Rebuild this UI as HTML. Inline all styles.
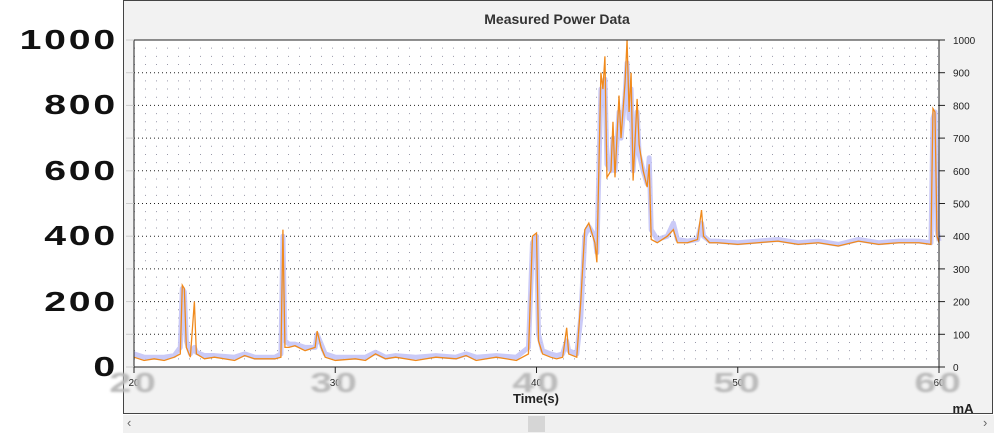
<!DOCTYPE html>
<html><head><meta charset="utf-8"><style>
body{margin:0;width:994px;height:433px;background:#fff;overflow:hidden;font-family:"Liberation Sans",sans-serif;position:relative}
#panel{position:absolute;left:123px;top:0;width:870px;height:414px;background:#f2f2f2;border:1px solid #444;box-sizing:border-box}
#sb{position:absolute;left:123px;top:415px;width:871px;height:18px;background:#f0f0f0}
.big{position:absolute;font-size:28px;color:#111;letter-spacing:2px;transform:scaleX(1.4);transform-origin:right center;text-align:right;width:100px;left:18px;line-height:28px;font-weight:bold}
.bx{position:absolute;font-size:28px;color:#bbb;letter-spacing:2px;filter:blur(1px);transform:translateX(-50%) scaleX(1.4);line-height:28px;font-weight:bold}
</style></head><body>
<div id="panel"></div>
<div id="sb">
 <span style="position:absolute;left:4px;top:0;font-size:13px;color:#666">‹</span>
 <div style="position:absolute;left:405px;top:1px;width:17px;height:16px;background:#d6d6d6"></div>
 <span style="position:absolute;left:860px;top:0;font-size:13px;color:#666">›</span>
</div>
<svg id="chart" width="994" height="433" style="position:absolute;left:0;top:0"></svg>
<div id="bigy"></div><div id="bigx"></div>
<script>
const times=[20,20.5,21,21.5,22,22.3,22.4,22.5,22.6,22.8,23.0,23.1,23.5,24,25,25.5,26,27,27.3,27.4,27.5,27.7,28,28.5,29,29.1,29.3,29.5,30,31,31.5,32,32.5,33,34,35,36,36.5,37,38,39,39.6,39.8,40.0,40.1,40.3,40.7,41,41.3,41.5,41.6,42,42.2,42.4,42.6,42.9,43.0,43.2,43.3,43.4,43.5,43.7,43.8,43.9,44.1,44.2,44.4,44.5,44.6,44.7,44.8,45,45.1,45.3,45.5,45.6,45.7,46,46.5,46.8,47,47.5,48,48.2,48.3,48.6,49,50,51,52,53,54,55,56,57,58,59,59.6,59.7,59.8,59.9,60];
const rawValues=[30,20,25,20,30,40,250,240,60,30,200,40,25,30,20,35,25,25,30,420,60,60,65,50,60,110,60,30,20,25,20,40,25,30,20,30,25,35,20,30,20,40,400,410,80,40,30,25,30,120,40,30,200,420,440,380,320,900,850,950,580,600,750,580,830,700,870,1000,780,900,570,820,680,600,550,620,390,380,400,420,380,380,390,480,400,380,380,375,380,385,375,380,370,385,375,380,380,375,790,780,400,380];
const smoothValues=[40,30,30,30,35,60,240,230,80,40,60,45,35,35,30,40,30,30,40,400,80,70,70,60,60,100,70,40,30,30,30,45,30,35,30,35,30,40,30,35,30,60,380,400,100,50,40,35,40,80,50,40,150,400,430,400,350,850,800,880,620,600,700,600,780,700,830,930,760,850,600,780,650,600,560,640,420,390,400,440,390,385,390,440,400,385,385,380,385,390,380,385,375,390,380,385,385,380,760,780,420,385];
const yTicks=[0,100,200,300,400,500,600,700,800,900,1000];
const bigYLabels=[0,200,400,600,800,1000];
const xTicks=[20,30,40,50,60];
const L=134,R=939,T=40,B=367;
const xs=t=>L+(t-20)/40*(R-L);
const ys=v=>B-v/1000*(B-T);
const svg=document.getElementById('chart');
const NS='http://www.w3.org/2000/svg';
function mk(tag,a){const e=document.createElementNS(NS,tag);for(const k in a)e.setAttribute(k,a[k]);svg.appendChild(e);return e;}
let bg=mk('rect',{x:L,y:T,width:R-L,height:B-T,fill:'#fff'});


// minor grid
for(let v=25;v<1000;v+=25){let g=mk('line',{x1:L,x2:R,y1:ys(v),y2:ys(v),stroke:v%100==0?'#222':'#99a',"stroke-width":1,"stroke-dasharray":v%100==0?'1,3':'1,10'});

}
for(let t=20.25;t<60;t+=0.25){}
let smooth=mk('polyline',{points:times.map((t,i)=>xs(t)+','+ys(smoothValues[i])).join(' '),fill:'none',stroke:'#c4c4f6',"stroke-width":5,"stroke-linejoin":'round',opacity:0.9});


let raw=mk('polyline',{points:times.map((t,i)=>xs(t)+','+ys(rawValues[i])).join(' '),fill:'none',stroke:'#f08a1c',"stroke-width":1.3});


let fr=mk('rect',{x:L,y:T,width:R-L,height:B-T,fill:'none',stroke:'#222'});


yTicks.forEach(v=>{mk('line',{x1:R,x2:R+6,y1:ys(v),y2:ys(v),stroke:'#222'});
 let t=mk('text',{x:R+14,y:ys(v)+4,"font-size":10,fill:'#222'});t.textContent=v;
 
 
 mk('line',{x1:L-8,x2:L,y1:ys(v),y2:ys(v),stroke:'#ccc'});});
xTicks.forEach(v=>{mk('line',{x1:xs(v),x2:xs(v),y1:B,y2:B+6,stroke:'#222'});
 let t=mk('text',{x:xs(v),y:B+19,"font-size":10,fill:'#222',"text-anchor":'middle'});t.textContent=v;
 
 });
let ti=mk('text',{x:557,y:24,"font-size":14,"font-weight":'bold',fill:'#333',"text-anchor":'middle'});ti.textContent='Measured Power Data';


let xt=mk('text',{x:536,y:403,"font-size":13,"font-weight":'bold',fill:'#222',"text-anchor":'middle'});xt.textContent='Time(s)';


let ma=mk('text',{x:963,y:413,"font-size":13,"font-weight":'bold',fill:'#222',"text-anchor":'middle'});ma.textContent='mA';


const by=document.getElementById('bigy');
bigYLabels.forEach(v=>{const d=document.createElement('div');d.className='big';d.style.top=(ys(v)-14)+'px';d.textContent=v;
 
 
 by.appendChild(d);});
const bx=document.getElementById('bigx');
xTicks.forEach(v=>{const d=document.createElement('div');d.className='bx';d.style.left=xs(v)+'px';d.style.top='369px';d.textContent=v;
 
 
 bx.appendChild(d);});
</script>
</body></html>
